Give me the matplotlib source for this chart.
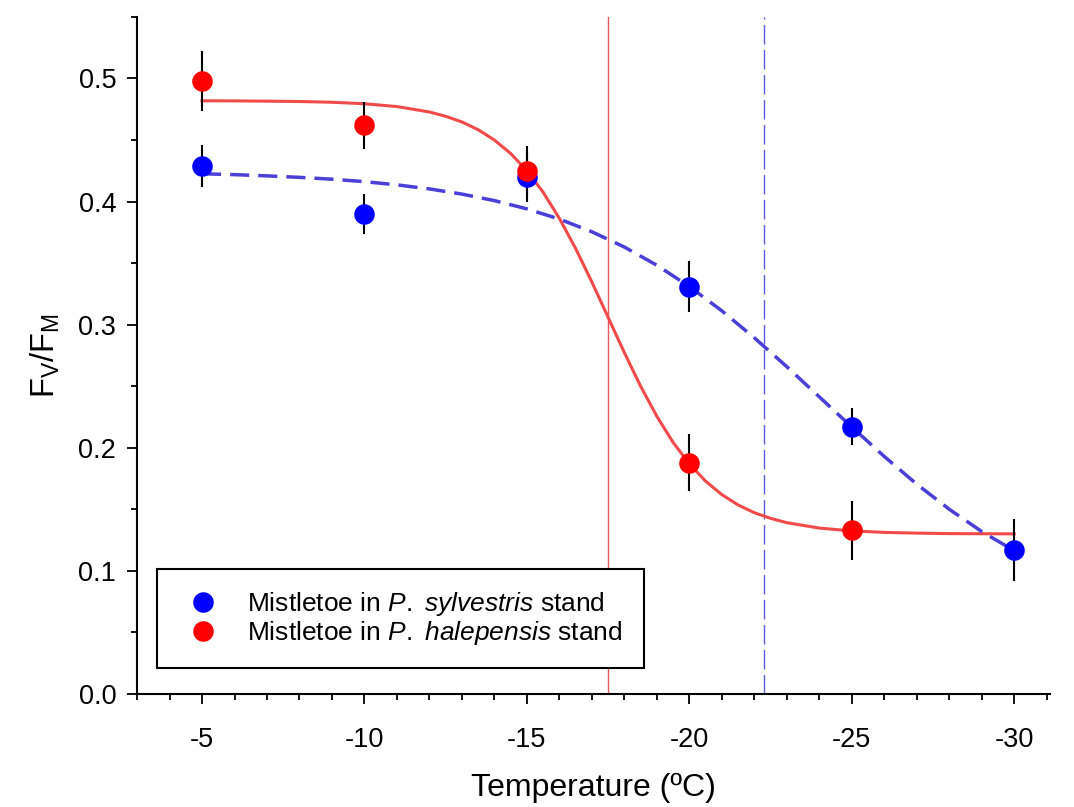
import numpy as np
import matplotlib
matplotlib.use("Agg")
import matplotlib.pyplot as plt

plt.rcParams["font.family"] = ["Liberation Sans", "DejaVu Sans"]
plt.rcParams["mathtext.fontset"] = "custom"
plt.rcParams["mathtext.rm"] = "Liberation Sans"
plt.rcParams["mathtext.it"] = "Liberation Sans:italic"
plt.rcParams["axes.unicode_minus"] = False

# measured points (temperature, Fv/Fm, error)
temp = [-5, -10, -15, -20, -25, -30]
sylv_fvfm = [0.429, 0.390, 0.420, 0.331, 0.217, 0.117]
sylv_err = [0.017, 0.016, 0.020, 0.021, 0.015, 0.025]
hale_temp = [-5, -10, -15, -20, -25]
hale_fvfm = [0.498, 0.462, 0.425, 0.188, 0.133]
hale_err = [0.024, 0.019, 0.020, 0.023, 0.024]

# fitted curves
sylv_fit_t = [-5, -6, -7, -8, -9, -10, -11, -12, -13, -14, -15, -16, -17,
              -18, -19, -20, -21, -22, -23, -24, -25, -26, -27, -28, -29, -30]
sylv_fit_y = [0.4226, 0.4219, 0.4209, 0.4197, 0.4182, 0.4162, 0.4136,
              0.4103, 0.4061, 0.4008, 0.3941, 0.3858, 0.3755, 0.3631,
              0.3483, 0.3310, 0.3113, 0.2894, 0.2659, 0.2414, 0.2169,
              0.1930, 0.1705, 0.1501, 0.1320, 0.1164]
hale_fit_t = [-5, -6, -7, -8, -9, -10, -11, -12, -12.5, -13, -13.5, -14,
              -14.5, -15, -15.5, -16, -16.5, -17, -17.5, -18, -18.5, -19,
              -19.5, -20, -20.5, -21, -21.5, -22, -22.5, -23, -24, -25,
              -26, -27, -28, -29, -30]
hale_fit_y = [0.4819, 0.4818, 0.4816, 0.4813, 0.4807, 0.4795, 0.4772,
              0.4728, 0.4693, 0.4647, 0.4584, 0.4500, 0.4391, 0.4251,
              0.4076, 0.3864, 0.3619, 0.3347, 0.3060, 0.2773, 0.2501,
              0.2256, 0.2044, 0.1870, 0.1729, 0.1620, 0.1536, 0.1473,
              0.1427, 0.1392, 0.1348, 0.1325, 0.1313, 0.1307, 0.1303,
              0.1302, 0.1301]

# LT50 markers
hale_lt50 = -17.5
sylv_lt50 = -22.3

fig = plt.figure(figsize=(10.74, 8.07), dpi=100)
ax = fig.add_axes([0.1276, 0.140, 0.850, 0.839])

ax.axvline(hale_lt50, color="#e8585c", linewidth=1.0, zorder=1)
ax.axvline(sylv_lt50, color="#5a5ae6", linewidth=1.0, dashes=(14, 4), zorder=1)

ax.plot(hale_fit_t, hale_fit_y, color="#f04a4a", linewidth=2.2, zorder=2)
ax.plot(sylv_fit_t, sylv_fit_y, color="#4a3fd6", linewidth=2.5,
        dashes=(5.5, 2.6), zorder=2)

ax.errorbar(temp, sylv_fvfm, yerr=sylv_err, fmt="none", ecolor="black",
            elinewidth=1.5, capsize=0, zorder=3)
ax.errorbar(hale_temp, hale_fvfm, yerr=hale_err, fmt="none", ecolor="black",
            elinewidth=1.5, capsize=0, zorder=3)
ax.plot(temp, sylv_fvfm, "o", color="#0000ff", markersize=14.8,
        markeredgewidth=0, zorder=4,
        label=r"Mistletoe in $\mathit{P.}$ $\mathit{sylvestris}$ stand")
ax.plot(hale_temp, hale_fvfm, "o", color="#ff0000", markersize=14.8,
        markeredgewidth=0, zorder=4,
        label=r"Mistletoe in $\mathit{P.}$ $\mathit{halepensis}$ stand")

ax.set_xlim(-3, -31.1)
ax.set_ylim(0, 0.55)
ax.set_xticks([-5, -10, -15, -20, -25, -30])
ax.set_xticks(np.arange(-3, -32, -1), minor=True)
ax.set_yticks([0.0, 0.1, 0.2, 0.3, 0.4, 0.5])
ax.set_yticks(np.arange(0, 0.56, 0.05), minor=True)
ax.set_yticklabels(["0.0", "0.1", "0.2", "0.3", "0.4", "0.5"])

ax.spines[["top", "right"]].set_visible(False)
ax.spines[["left", "bottom"]].set_linewidth(1.5)
ax.tick_params(axis="both", which="major", direction="out", length=7,
               width=1.3, labelsize=19.5)
ax.tick_params(axis="both", which="minor", direction="out", length=4.5,
               width=1.3)
ax.tick_params(axis="x", which="major", pad=17)
ax.tick_params(axis="y", which="major", pad=8)

ax.set_xlabel("Temperature (ºC)", fontsize=23, labelpad=14)
ax.set_ylabel(r"F$_\mathrm{V}$/F$_\mathrm{M}$", fontsize=23.5, labelpad=12)

leg = ax.legend(loc="lower left", bbox_to_anchor=(0.022, 0.038),
                borderaxespad=0, fontsize=19, frameon=True, fancybox=False,
                framealpha=1, handlelength=1.9, handletextpad=0.7,
                borderpad=0.8, labelspacing=0.05)
leg.get_frame().set_edgecolor("black")
leg.get_frame().set_linewidth(1.5)
leg.set_zorder(5)

fig.savefig("out.png", dpi=100)
